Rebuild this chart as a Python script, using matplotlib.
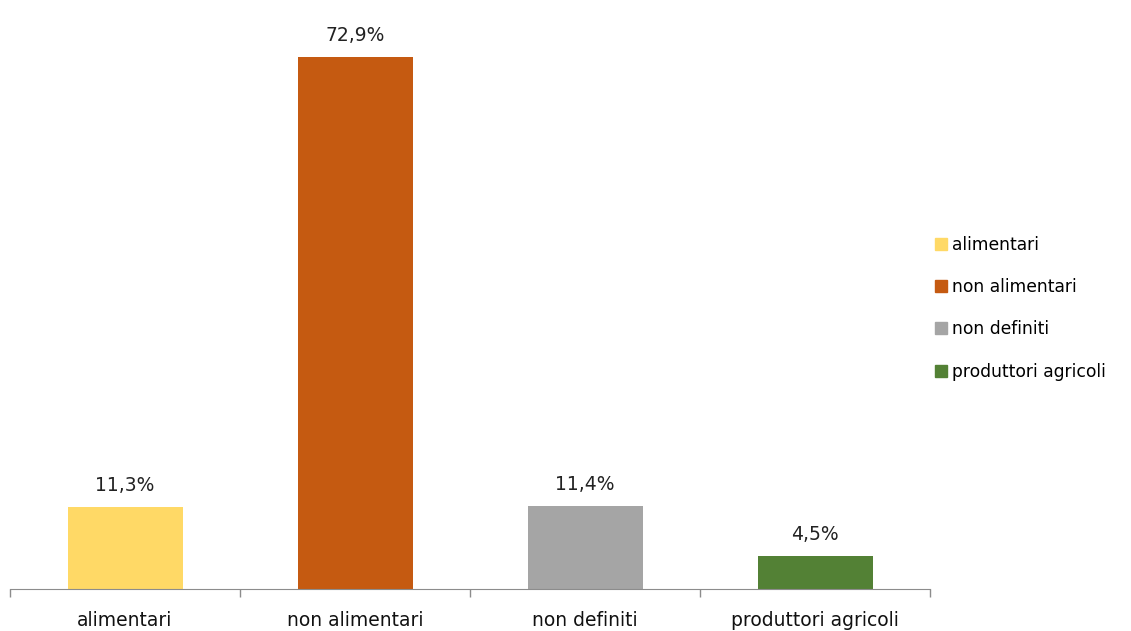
import matplotlib.pyplot as plt
from matplotlib.lines import Line2D

categories = ["alimentari", "non alimentari", "non definiti", "produttori agricoli"]
values = [11.3, 72.9, 11.4, 4.5]
labels = ["11,3%", "72,9%", "11,4%", "4,5%"]
colors = ["#FFD966", "#C55A11", "#A5A5A5", "#538135"]

fig = plt.figure(figsize=(11.31, 6.31), dpi=100)
ax = fig.add_axes([10 / 1131, 1 - 589 / 631, 920 / 1131, 584 / 631])

x = range(len(categories))
bars = ax.bar(x, values, width=0.5, color=colors)
for i, v in enumerate(values):
    ax.text(i, v + 1.6, labels[i], ha="center", va="bottom", fontsize=13.5, color="#222222")

ax.set_xlim(-0.5, len(categories) - 0.5)
ax.set_ylim(0, 80)
ax.set_yticks([])
ax.set_xticks([i - 0.5 for i in range(len(categories) + 1)], minor=False)
ax.set_xticklabels([])
ax.tick_params(axis="x", length=6, color="#8c8c8c", width=1)
ax.set_xticks(list(x), minor=True)
ax.set_xticklabels(categories, minor=True, fontsize=13.5, color="#111111")
ax.tick_params(axis="x", which="minor", length=0, pad=16)

for s in ["top", "left", "right"]:
    ax.spines[s].set_visible(False)
ax.spines["bottom"].set_color("#8c8c8c")

handles = [Line2D([], [], marker="s", linestyle="", markersize=9, color=c) for c in colors]
fig.legend(handles, categories, loc="upper left", bbox_to_anchor=(926 / 1131, 1 - 229 / 631),
           frameon=False, fontsize=12.3, handletextpad=0.1, labelspacing=1.42,
           handlelength=1.0, borderaxespad=0)

fig.savefig("out.png", dpi=100)
